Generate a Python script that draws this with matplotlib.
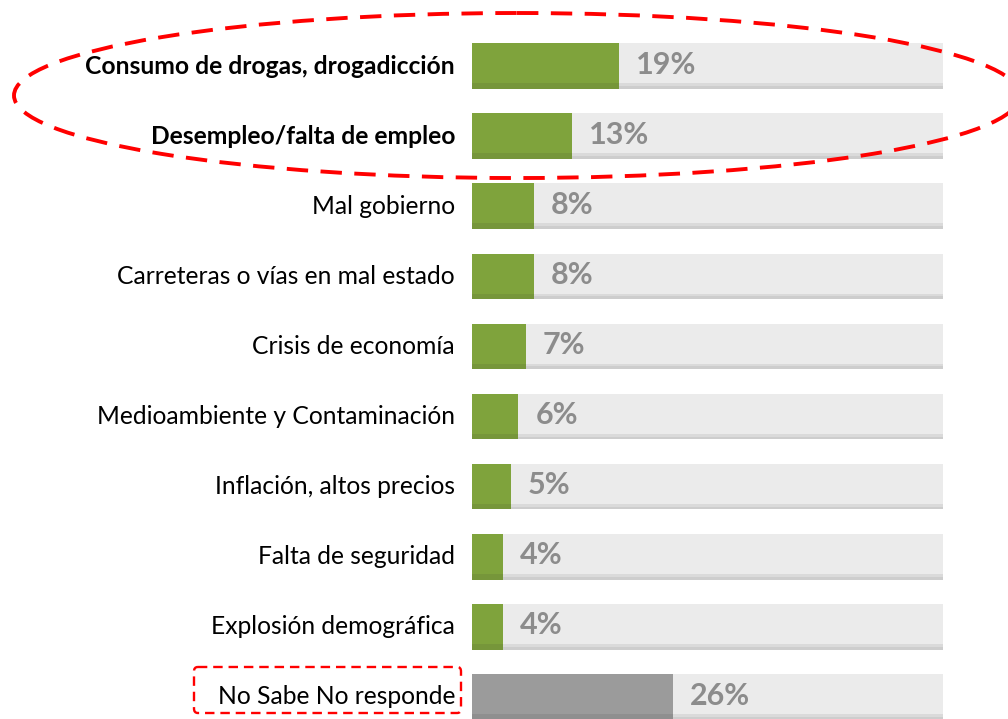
import matplotlib
matplotlib.use('Agg')
import matplotlib.pyplot as plt
from matplotlib.patches import Ellipse, FancyBboxPatch

plt.rcParams['font.family'] = ['Lato', 'DejaVu Sans']

# ---- datos ----
categorias = ['Consumo de drogas, drogadicción', 'Desempleo/falta de empleo',
              'Mal gobierno', 'Carreteras o vías en mal estado',
              'Crisis de economía', 'Medioambiente y Contaminación',
              'Inflación, altos precios', 'Falta de seguridad',
              'Explosión demográfica', 'No Sabe No responde']
valores = [19, 13, 8, 8, 7, 6, 5, 4, 4, 26]
negritas = [True, True, False, False, False, False, False, False, False, False]
fondo = 61  # largo de la barra gris de fondo

verde = '#7FA33C'
verde_osc = '#76963A'
gris_nsnr = '#9B9B9B'
gris_nsnr_osc = '#8F8F8F'

# escala: px por unidad, barra empieza en x=472 px, filas cada 70.1 px
W, H = 1008, 719
pxu = 471 / fondo
fig = plt.figure(figsize=(W/100, H/100), dpi=100)
ax = fig.add_axes([0, 0, 1, 1])
ax.set_xlim(-472/pxu, (W-472)/pxu)
ax.set_ylim(9 + (H-697)/70.1, -66/70.1)
ax.axis('off')

alto = 0.65
n = len(categorias)
for i in range(n):
    # fondo gris con borde inferior sombreado
    ax.barh(i, fondo, height=alto, color='#EBEBEB', edgecolor='none', zorder=1)
    ax.barh(i + alto/2 - 0.05, fondo, height=0.06, color='#DADADA', edgecolor='none', zorder=1)
    ax.barh(i + alto/2 - 0.02, fondo, height=0.04, color='#CDCDCD', edgecolor='none', zorder=1)
    c = gris_nsnr if i == n-1 else verde
    co = gris_nsnr_osc if i == n-1 else verde_osc
    ax.barh(i, valores[i], height=alto, color=c, edgecolor='none', zorder=2)
    ax.barh(i + alto/2 - 0.04, valores[i], height=0.08, color=co, edgecolor='none', zorder=2)
    ax.text(valores[i] + 2.2, i - 0.02, f'{valores[i]}%', fontsize=22, fontweight='bold',
            color='#8C8C8C', va='center', ha='left', zorder=3)
    ax.text(-17/pxu, i, categorias[i], fontsize=17.7,
            fontweight='bold' if negritas[i] else 'normal',
            color='black', va='center', ha='right', zorder=3)

# elipse roja punteada sobre los dos primeros
el = Ellipse((517/pxu - 472/pxu, 95.5/70.1 - 66/70.1), width=2*503/pxu, height=165/70.1,
             fill=False, edgecolor='#FF0000', linewidth=2.8, linestyle=(0, (5.5, 3.2)), zorder=4,
             clip_on=False)
ax.add_patch(el)

# recuadro alrededor de "No Sabe No responde"
x0 = (194 - 472)/pxu
x1 = (461 - 472)/pxu
y0 = 9 + (667 - 697)/70.1
y1 = 9 + (713 - 697)/70.1
rect = FancyBboxPatch((x0, y0), x1 - x0, y1 - y0, boxstyle='round,pad=0,rounding_size=0.5',
                      fill=False, edgecolor='#FF0000', linewidth=1.7,
                      linestyle=(0, (4, 2.5)), zorder=4, mutation_aspect=1/8)
ax.add_patch(rect)

plt.savefig('out.png', dpi=100)
